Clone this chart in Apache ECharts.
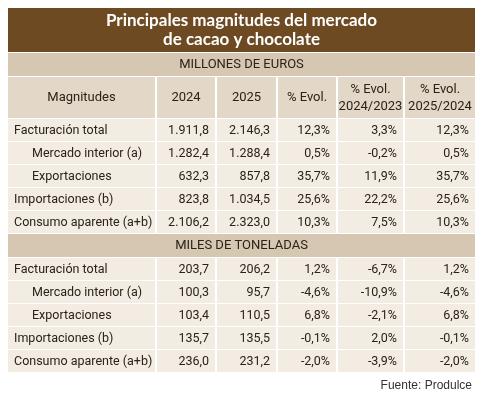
<!DOCTYPE html>
<html><head><meta charset="utf-8">
<script src="https://cdn.jsdelivr.net/npm/echarts@6/dist/echarts.min.js"></script>
<style>html,body{margin:0;padding:0;background:#fff}#c{width:482px;height:400px}</style>
</head><body><div id="c"></div>
<script>
const title = ['Principales magnitudes del mercado', 'de cacao y chocolate'];
const section1 = 'MILLONES DE EUROS';
const section2 = 'MILES DE TONELADAS';
const headers = ['Magnitudes', '2024', '2025', '% Evol.', '% Evol.\n2024/2023', '% Evol.\n2025/2024'];
const categories = ['Facturación total', 'Mercado interior (a)', 'Exportaciones', 'Importaciones (b)', 'Consumo aparente (a+b)'];
const indented = [false, true, true, false, false];
const euros2024 = ['1.911,8', '1.282,4', '632,3', '823,8', '2.106,2'];
const euros2025 = ['2.146,3', '1.288,4', '857,8', '1.034,5', '2.323,0'];
const eurosEvol = ['12,3%', '0,5%', '35,7%', '25,6%', '10,3%'];
const eurosEvol2423 = ['3,3%', '-0,2%', '11,9%', '22,2%', '7,5%'];
const eurosEvol2524 = ['12,3%', '0,5%', '35,7%', '25,6%', '10,3%'];
const tons2024 = ['203,7', '100,3', '103,4', '135,7', '236,0'];
const tons2025 = ['206,2', '95,7', '110,5', '135,5', '231,2'];
const tonsEvol = ['1,2%', '-4,6%', '6,8%', '-0,1%', '-2,0%'];
const tonsEvol2423 = ['-6,7%', '-10,9%', '-2,1%', '2,0%', '-3,9%'];
const tonsEvol2524 = ['1,2%', '-4,6%', '6,8%', '-0,1%', '-2,0%'];
const source = 'Fuente: Produlce';

const colX = [8, 157, 217, 278, 338, 405, 475];
const FONT = 'Roboto, "DejaVu Sans", sans-serif';
const cells = [];
function cell(x0,y0,x1,y1,text,fill,opt){cells.push({value:[x0,y0,x1,y1],text,fill,opt:opt||{}});}
cell(8,8,475,52,title.join('\n'),'#6d4a22',{color:'#fff',font:'bold 17px Lato, "DejaVu Sans", sans-serif',align:'center',lh:19});
function section(y,label,withHeader,rows){
  cell(8,y,475,y+23,label,'#d6c7b2',{align:'center',font:'13px '+FONT});
  y+=24;
  if(withHeader){
    for(let c=0;c<6;c++) cell(colX[c],y,colX[c+1]-(c<5?2:0),y+41,headers[c],'#e3d8c8',{align:'center',font:'13px '+FONT,lh:17});
    y+=42;
  }
  for(let r=0;r<5;r++){
    for(let c=0;c<6;c++){
      const t = c===0?categories[r]:rows[c-1][r];
      cell(colX[c],y,colX[c+1]-(c<5?2:0),y+22,t,'#f2ece3',{align:c===0?'left':'right',indent:c===0&&indented[r]?24:6,font:'12.5px '+FONT});
    }
    y+=23;
  }
  return y;
}
let y = section(53,section1,true,[euros2024,euros2025,eurosEvol,eurosEvol2423,eurosEvol2524]);
y = section(y,section2,false,[tons2024,tons2025,tonsEvol,tonsEvol2423,tonsEvol2524]);

const chart = echarts.init(document.getElementById('c'));
chart.setOption({
  animation:false,
  grid:{left:0,right:0,top:0,bottom:0},
  xAxis:{type:'value',min:0,max:482,show:false},
  yAxis:{type:'value',min:0,max:400,inverse:true,show:false},
  graphic:[{type:'text',right:10,top:380,style:{text:source,font:'12px "Liberation Sans", Arial, sans-serif',fill:'#333'}}],
  series:[{
    type:'custom',coordinateSystem:'cartesian2d',
    data:cells.map(c=>c.value),
    renderItem:function(params,api){
      const c=cells[params.dataIndex];
      const p0=api.coord([api.value(0),api.value(1)]), p1=api.coord([api.value(2),api.value(3)]);
      const o=c.opt;
      let tx, align=o.align;
      if(align==='center') tx=(p0[0]+p1[0])/2;
      else if(align==='left') tx=p0[0]+(o.indent||6);
      else tx=p1[0]-6;
      return {type:'group',children:[
        {type:'rect',shape:{x:p0[0],y:p0[1],width:p1[0]-p0[0],height:p1[1]-p0[1]},style:{fill:c.fill}},
        {type:'text',style:{x:tx,y:(p0[1]+p1[1])/2+0.5,text:c.text,align:align,verticalAlign:'middle',fill:o.color||'#2b2218',font:o.font,lineHeight:o.lh}}
      ]};
    }
  }]
});
</script></body></html>
